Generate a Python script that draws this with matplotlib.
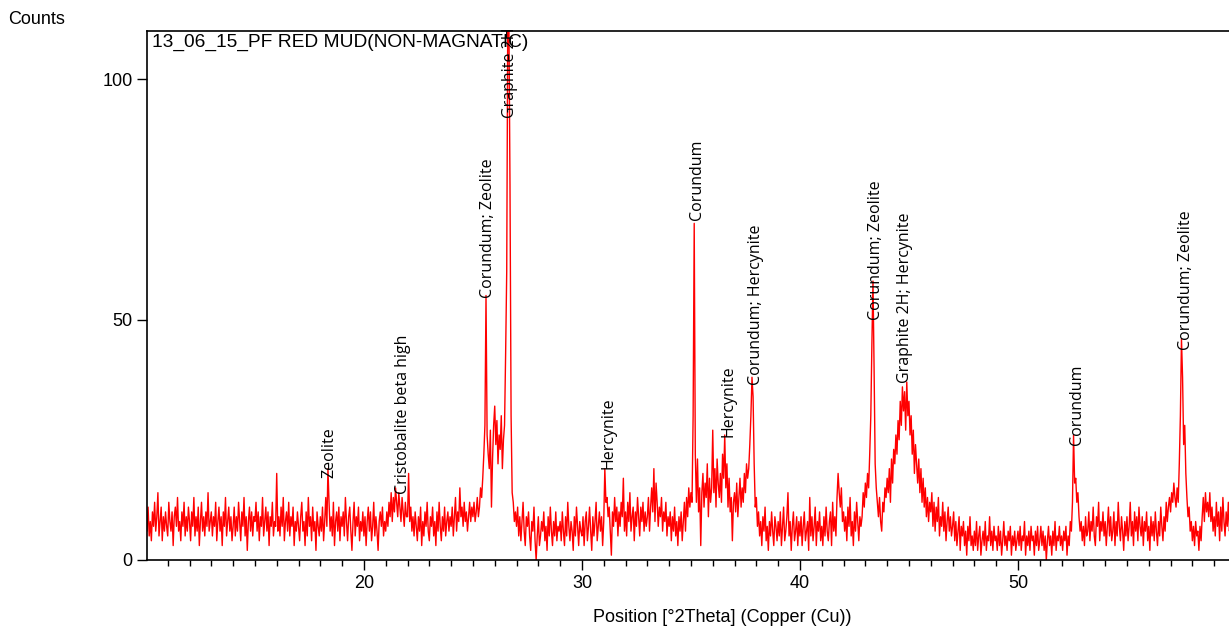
import numpy as np
import matplotlib
matplotlib.use("Agg")
import matplotlib.pyplot as plt
from matplotlib.ticker import MultipleLocator

plt.rcParams['font.family'] = ['Liberation Sans', 'DejaVu Sans']

# scan: 10.00 .. 59.95 deg 2theta, step 0.05 (one row = one degree)
start_2theta = 10.0
step_2theta = 0.05
counts = [
    9, 6, 11, 5, 8, 4, 10, 7, 12, 6, 9, 14, 5, 8, 11, 4, 9, 6, 10, 7,          # 10
    5, 12, 8, 6, 10, 3, 9, 11, 7, 13, 6, 8, 4, 10, 7, 12, 5, 9, 6, 11,         # 11
    8, 4, 10, 7, 13, 5, 9, 6, 11, 3, 8, 12, 6, 9, 5, 10, 7, 14, 6, 8,          # 12
    10, 5, 9, 7, 12, 4, 8, 11, 6, 9, 3, 10, 7, 13, 5, 8, 11, 6, 9, 4,          # 13
    7, 11, 5, 9, 6, 12, 8, 4, 10, 7, 13, 5, 9, 2, 8, 11, 6, 10, 5, 9,          # 14
    8, 12, 6, 10, 4, 9, 7, 13, 5, 8, 11, 6, 10, 3, 9, 7, 12, 5, 8, 7,          # 15
    18, 6, 9, 5, 11, 7, 13, 4, 8, 10, 6, 12, 5, 9, 7, 11, 3, 8, 6, 10,         # 16
    7, 4, 9, 12, 6, 8, 3, 10, 5, 13, 7, 9, 4, 11, 6, 8, 2, 10, 7, 5,           # 17
    9, 6, 11, 4, 8, 13, 7, 19, 12, 6, 9, 5, 12, 3, 8, 10, 6, 11, 4, 9,         # 18
    7, 10, 5, 13, 8, 4, 9, 11, 6, 2, 8, 12, 5, 9, 7, 11, 4, 8, 6, 10,          # 19
    5, 9, 3, 8, 11, 6, 10, 4, 7, 12, 5, 9, 6, 2, 8, 10, 7, 11, 5, 8,           # 20
    6, 10, 7, 12, 9, 14, 8, 13, 10, 15, 12, 9, 14, 11, 8, 13, 10, 7, 12, 9,   # 21
    9, 18, 8, 11, 6, 9, 5, 10, 7, 4, 9, 6, 11, 3, 8, 5, 10, 7, 12, 6,          # 22
    4, 9, 7, 11, 5, 8, 3, 10, 6, 12, 7, 4, 9, 6, 11, 5, 8, 10, 6, 9,           # 23
    7, 11, 5, 9, 13, 6, 10, 8, 15, 9, 11, 7, 12, 8, 10, 6, 9, 12, 8, 11,       # 24
    9, 12, 8, 10, 13, 9, 11, 15, 13, 17, 22, 28, 55, 26, 22, 19, 27, 11, 21, 28,   # 25
    32, 24, 29, 20, 26, 23, 30, 19, 25, 28, 43, 60, 115, 112, 78, 30, 14, 12, 8, 10,  # 26
    7, 11, 5, 9, 4, 8, 12, 6, 3, 9, 7, 10, 5, 2, 8, 6, 11, 4, 0, 5,            # 27
    9, 3, 5, 8, 6, 10, 4, 7, 2, 9, 5, 11, 6, 3, 8, 5, 10, 4, 7, 6,             # 28
    8, 4, 10, 6, 3, 9, 5, 12, 7, 4, 8, 6, 2, 9, 5, 11, 7, 3, 8, 6,             # 29
    5, 9, 3, 8, 10, 4, 7, 11, 6, 2, 9, 5, 8, 12, 4, 7, 10, 6, 9, 3,            # 30
    8, 19, 12, 13, 9, 11, 6, 1, 10, 7, 13, 8, 11, 5, 10, 7, 12, 9, 17, 6,      # 31
    10, 5, 12, 8, 14, 6, 9, 11, 4, 10, 7, 13, 9, 5, 11, 8, 12, 6, 10, 7,       # 32
    9, 13, 6, 11, 15, 10, 19, 8, 16, 12, 7, 11, 9, 13, 6, 10, 8, 12, 5, 9,     # 33
    7, 10, 4, 9, 6, 11, 5, 8, 3, 9, 6, 10, 4, 8, 12, 6, 13, 9, 15, 11,         # 34
    14, 12, 30, 70, 22, 12, 21, 10, 15, 3, 14, 18, 11, 16, 13, 20, 9, 17, 12, 15,  # 35
    27, 14, 19, 11, 21, 16, 13, 18, 12, 22, 17, 26, 15, 20, 11, 17, 10, 13, 4, 12,  # 36
    14, 10, 16, 9, 13, 17, 11, 15, 12, 18, 14, 20, 17, 19, 24, 30, 38, 34, 20, 11,  # 37
    13, 7, 10, 5, 8, 3, 9, 6, 11, 4, 7, 2, 8, 5, 10, 6, 3, 9, 7, 4,            # 38
    8, 5, 10, 3, 7, 11, 4, 6, 9, 14, 5, 8, 2, 7, 10, 4, 6, 9, 3, 8,            # 39
    5, 9, 3, 7, 10, 4, 6, 8, 2, 13, 5, 9, 4, 7, 11, 3, 8, 6, 10, 4,            # 40
    7, 3, 9, 5, 11, 6, 4, 8, 10, 3, 12, 6, 9, 5, 13, 18, 14, 11, 15, 8,        # 41
    10, 6, 9, 4, 11, 7, 13, 5, 8, 3, 10, 6, 12, 8, 4, 9, 7, 9, 14, 11,         # 42
    16, 13, 18, 15, 22, 30, 45, 58, 40, 20, 15, 12, 9, 13, 8, 6, 12, 10, 15, 13,  # 43
    17, 14, 19, 12, 21, 16, 23, 20, 26, 22, 29, 25, 33, 28, 36, 31, 35, 27, 37, 30,  # 44
    33, 26, 30, 22, 27, 18, 24, 20, 16, 21, 14, 19, 12, 17, 11, 15, 9, 13, 8, 12,  # 45
    10, 14, 7, 12, 6, 11, 8, 13, 5, 9, 7, 12, 6, 10, 4, 8, 11, 6, 9, 5,        # 46
    7, 10, 4, 8, 3, 6, 9, 2, 7, 5, 8, 3, 6, 1, 7, 4, 9, 3, 5, 2,               # 47
    6, 3, 8, 2, 5, 7, 1, 4, 6, 3, 8, 2, 5, 4, 9, 3, 6, 2, 7, 4,                # 48
    5, 2, 7, 3, 6, 1, 4, 8, 3, 5, 2, 6, 4, 7, 1, 5, 3, 6, 2, 4,                # 49
    6, 3, 7, 2, 5, 4, 8, 1, 5, 3, 6, 2, 7, 4, 5, 1, 6, 3, 7, 2,                # 50
    4, 7, 3, 6, 2, 5, 0, 4, 7, 3, 5, 1, 6, 3, 8, 2, 5, 4, 7, 3,                # 51
    5, 2, 6, 4, 7, 1, 5, 3, 8, 6, 12, 26, 16, 17, 12, 14, 9, 6, 8, 4,          # 52
    7, 3, 9, 5, 6, 10, 4, 8, 6, 11, 5, 3, 9, 7, 12, 4, 8, 6, 10, 5,            # 53
    8, 3, 7, 11, 5, 9, 4, 6, 10, 3, 8, 5, 12, 7, 4, 9, 6, 2, 8, 5,             # 54
    9, 4, 7, 12, 5, 8, 3, 10, 6, 9, 4, 11, 7, 5, 9, 3, 8, 6, 10, 4,            # 55
    7, 2, 9, 5, 8, 4, 10, 6, 3, 8, 5, 11, 7, 4, 9, 6, 12, 8, 11, 13,           # 56
    10, 14, 12, 16, 13, 11, 15, 12, 20, 30, 46, 38, 24, 28, 18, 13, 9, 11, 6, 8,  # 57
    4, 7, 3, 8, 5, 6, 2, 7, 4, 9, 13, 8, 14, 10, 12, 9, 14, 8, 11, 6,          # 58
    9, 5, 12, 7, 10, 4, 11, 6, 13, 8, 5, 10, 7, 12, 6, 9, 4, 10, 7, 11,        # 59
]
two_theta = start_2theta + step_2theta * np.arange(len(counts))

# phase labels: position, height of label foot
peak_pos = [18.4, 21.8, 25.7, 26.7, 31.2, 35.3, 36.7, 38.0, 43.5, 44.8, 52.7, 57.7]
peak_top = [17, 13.7, 54.5, 92, 19, 70.7, 25.6, 36.4, 50, 36.8, 24, 43.7]
peak_names = ["Zeolite", "Cristobalite beta high", "Corundum; Zeolite", "Graphite 2H",
              "Hercynite", "Corundum", "Hercynite", "Corundum; Hercynite",
              "Corundum; Zeolite", "Graphite 2H; Hercynite", "Corundum", "Corundum; Zeolite"]

fig = plt.figure(figsize=(12.29, 6.29), dpi=100)
ax = fig.add_axes([147/1229, 69/629, 1082/1229, 529/629])

ax.plot(two_theta, counts, color='#ff0000', lw=1.0)

for p, h, name in zip(peak_pos, peak_top, peak_names):
    ax.text(p, h, name, rotation=90, ha='center', va='bottom', fontsize=11.5,
            family=['Open Sans', 'DejaVu Sans'])

ax.text(0.005, 0.995, "13_06_15_PF RED MUD(NON-MAGNATIC)", transform=ax.transAxes,
        ha='left', va='top', fontsize=13.8)

ax.set_xlim(10.05, 59.68)
ax.set_ylim(0, 110)
ax.set_yticks([0, 50, 100])
ax.set_xticks([20, 30, 40, 50])
ax.xaxis.set_minor_locator(MultipleLocator(1))
ax.tick_params(axis='both', which='major', direction='out', length=7, width=1, labelsize=13)
ax.tick_params(axis='x', which='minor', direction='out', length=4, width=1)
ax.spines['right'].set_visible(False)
for s in ['left', 'bottom', 'top']:
    ax.spines[s].set_linewidth(1.2)

fig.text(37/1229, 1 - 19/629, "Counts", ha='center', va='center', fontsize=13)
fig.text(722/1229, 1 - 617/629, "Position [°2Theta] (Copper (Cu))", ha='center', va='center', fontsize=13)

fig.savefig("out.png", dpi=100)
